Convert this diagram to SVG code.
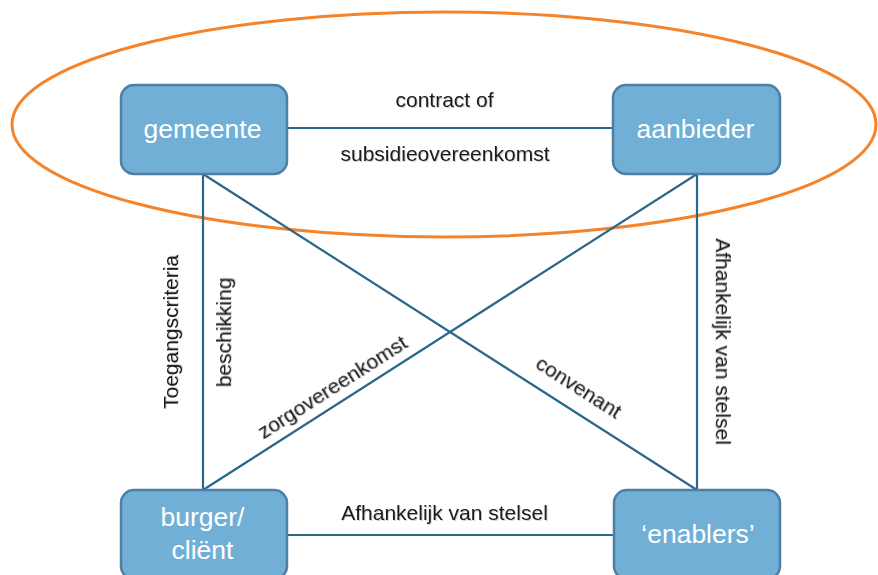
<svg xmlns="http://www.w3.org/2000/svg" width="878" height="575" viewBox="0 0 878 575">
  <defs>
    <filter id="sh" x="-10%" y="-30%" width="120%" height="160%">
      <feDropShadow dx="1" dy="1" stdDeviation="0.7" flood-color="#000" flood-opacity="0.18"/>
    </filter>
  </defs>
  <style>
    .node rect { fill: #71AFD6; stroke: #4C7FA2; stroke-width: 2.5; }
    .node text { font-family: "Liberation Sans", Arial, sans-serif; font-size: 26.5px; fill: #FFFFFF; text-anchor: middle; }
    .conn line { stroke: #2B668D; stroke-width: 2.2; }
    .lbl { font-family: "Liberation Sans", Arial, sans-serif; font-size: 21px; fill: #1A1A1A; text-anchor: middle; filter: url(#sh); }
  </style>
  <rect width="878" height="575" fill="#FFFFFF"/>
  <ellipse cx="444" cy="124.5" rx="432" ry="112.5" fill="none" stroke="#F5832A" stroke-width="3"/>
  <g id="connectors" class="conn">
    <line x1="287" y1="128" x2="613" y2="128"/>
    <line x1="287" y1="535" x2="614" y2="535"/>
    <line x1="203" y1="174" x2="203" y2="490"/>
    <line x1="697" y1="174" x2="697" y2="490"/>
    <line x1="203" y1="174" x2="697" y2="490"/>
    <line x1="697" y1="174" x2="203" y2="490"/>
  </g>
  <g id="labels">
    <text class="lbl" x="444.5" y="107">contract of</text>
    <text class="lbl" x="445" y="161">subsidieovereenkomst</text>
    <text class="lbl" transform="translate(178,332) rotate(-90)">Toegangscriteria</text>
    <text class="lbl" transform="translate(231,332.5) rotate(-90)">beschikking</text>
    <text class="lbl" transform="translate(716,341.5) rotate(90)">Afhankelijk van stelsel</text>
    <text class="lbl" transform="translate(336,393) rotate(-32.6)">zorgovereenkomst</text>
    <text class="lbl" transform="translate(575,393) rotate(32.6)">convenant</text>
    <text class="lbl" x="444.5" y="520">Afhankelijk van stelsel</text>
  </g>
  <g id="gemeente" class="node">
    <rect x="121" y="85" width="166" height="89" rx="13"/>
    <text x="202.5" y="138">gemeente</text>
  </g>
  <g id="aanbieder" class="node">
    <rect x="613" y="85" width="167" height="89" rx="13"/>
    <text x="695.5" y="138">aanbieder</text>
  </g>
  <g id="burger" class="node">
    <rect x="121" y="490" width="166" height="89" rx="13"/>
    <text x="202.5" y="526">burger/</text>
    <text x="202.5" y="559">cliënt</text>
  </g>
  <g id="enablers" class="node">
    <rect x="614" y="490" width="166" height="89" rx="13"/>
    <text x="698" y="543">‘enablers’</text>
  </g>
</svg>
